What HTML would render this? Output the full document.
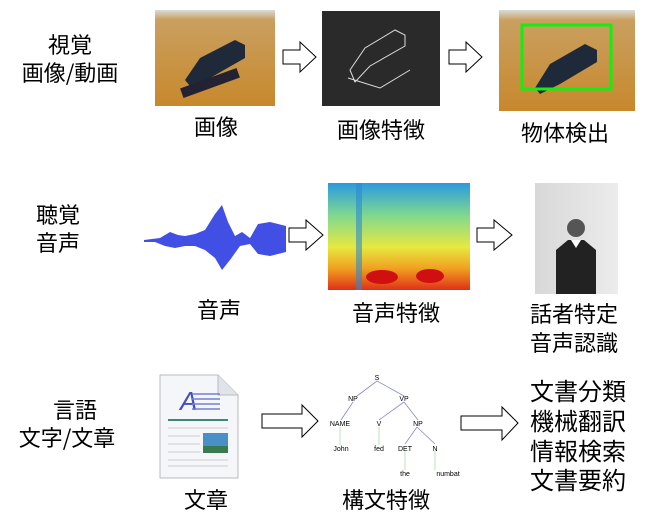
<!DOCTYPE html>
<html><head><meta charset="utf-8"><style>
body{margin:0;background:#fff;}
svg text{font-family:"Liberation Sans","Noto Sans CJK JP",sans-serif;fill:#000;}
svg text.jp{font-family:"Noto Sans CJK JP",sans-serif;}
</style></head><body>
<svg width="660" height="523" viewBox="0 0 660 523" xmlns="http://www.w3.org/2000/svg">
<defs>
<linearGradient id="wood" x1="0" y1="0" x2="0" y2="1"><stop offset="0" stop-color="#d8dcd8"/><stop offset="0.1" stop-color="#c9a060"/><stop offset="1" stop-color="#c8882c"/></linearGradient>
<linearGradient id="spec" x1="0" y1="0" x2="0" y2="1"><stop offset="0" stop-color="#2a9ae0"/><stop offset="0.3" stop-color="#7fd890"/><stop offset="0.6" stop-color="#e8e840"/><stop offset="0.8" stop-color="#f0a020"/><stop offset="1" stop-color="#e03018"/></linearGradient>
<linearGradient id="wall" x1="0" y1="0" x2="1" y2="0"><stop offset="0" stop-color="#d8d8d8"/><stop offset="1" stop-color="#ececec"/></linearGradient>
</defs>
<g font-size="22" text-anchor="middle">
<text class="jp" x="70" y="53">視覚</text><text class="jp" x="70" y="81">画像/動画</text>
<text class="jp" x="58" y="223">聴覚</text><text class="jp" x="58" y="251">音声</text>
<text class="jp" x="75" y="418">言語</text><text class="jp" x="67" y="446">文字/文章</text>
</g>
<!-- row1 -->
<rect x="155" y="10" width="120" height="96" fill="url(#wood)"/>
<path d="M185 80 L200 58 L235 40 L245 45 L245 58 L210 78 L190 86 Z" fill="#1e2a3a"/>
<rect x="180" y="78" width="60" height="10" fill="#223" transform="rotate(-20 210 83)"/>
<rect x="322" y="11" width="118" height="95" fill="#2a2a2a"/>
<path d="M350 70 L365 48 L395 30 L405 35 L405 46 L370 66 L355 82 Z M348 78 L380 88 L410 70" fill="none" stroke="#ddd" stroke-width="1"/>
<rect x="499" y="10" width="136" height="101" fill="url(#wood)"/>
<path d="M535 88 L550 64 L585 44 L597 50 L597 62 L560 84 L540 94 Z" fill="#1e2a3a"/>
<rect x="522" y="25" width="89" height="64" fill="none" stroke="#10f010" stroke-width="3"/>
<g fill="#fff" stroke="#000" stroke-width="1">
<path d="M283 50 L300 50 L300 42 L316 57 L300 72 L300 64 L283 64 Z"/>
<path d="M449 50 L466 50 L466 42 L482 57 L466 72 L466 64 L449 64 Z"/>
<path d="M289 228 L306 228 L306 220 L323 235 L306 250 L306 242 L289 242 Z"/>
<path d="M477 228 L494 228 L494 220 L512 235 L494 250 L494 242 L477 242 Z"/>
<path d="M262 414 L302 414 L302 405 L318 421 L302 437 L302 428 L262 428 Z"/>
<path d="M461 416 L502 416 L502 407 L518 423 L502 440 L502 430 L461 430 Z"/>
</g>
<g font-size="22" text-anchor="middle">
<text x="216" y="135">画像</text><text x="381" y="138">画像特徴</text><text x="565" y="141">物体検出</text>
<text x="219" y="318">音声</text><text x="396" y="321">音声特徴</text>
<text x="574" y="322">話者特定</text><text x="574" y="351">音声認識</text>
<text x="206" y="508">文章</text><text x="386" y="508">構文特徴</text>
</g>
<!-- row2 -->
<path d="M144 240 L160 238 L170 232 L178 235 L185 236 L195 234 L205 230 L215 214 L222 205 L228 222 L235 236 L242 232 L250 238 L258 224 L270 222 L286 226 L286 252 L270 256 L258 254 L250 244 L240 246 L230 260 L222 270 L215 258 L205 250 L195 246 L185 246 L175 248 L165 246 L155 242 L144 242 Z" fill="#2030e0" opacity="0.85"/>
<rect x="328" y="183" width="142" height="107" fill="url(#spec)"/>
<rect x="356" y="183" width="6" height="107" fill="#2a8ad0" opacity="0.6"/>
<ellipse cx="382" cy="277" rx="16" ry="7" fill="#d01010"/>
<ellipse cx="430" cy="276" rx="14" ry="7" fill="#d01010"/>
<rect x="535" y="183" width="83" height="111" fill="url(#wall)"/>
<circle cx="576" cy="228" r="9" fill="#555"/>
<path d="M556 294 L556 250 L568 240 L584 240 L596 250 L596 294 Z" fill="#222"/>
<path d="M571 240 L576 248 L581 240 Z" fill="#fff"/>
<!-- row3 doc -->
<path d="M160 375 L218 375 L238 395 L238 478 L160 478 Z" fill="#f4f6fa" stroke="#bbb"/>
<path d="M218 375 L218 395 L238 395" fill="#e0e4ea" stroke="#bbb"/>
<text x="180" y="410" font-size="26" font-style="italic" font-family="Liberation Serif" style="fill:#4050c0">A</text>
<g stroke="#7080d0" stroke-width="1.5"><line x1="192" y1="394" x2="220" y2="394"/><line x1="192" y1="399" x2="220" y2="399"/><line x1="192" y1="404" x2="220" y2="404"/><line x1="192" y1="409" x2="220" y2="409"/></g>
<line x1="168" y1="420" x2="228" y2="420" stroke="#3a8a7a" stroke-width="2"/>
<g stroke="#ccc"><line x1="168" y1="428" x2="228" y2="428"/><line x1="168" y1="436" x2="200" y2="436"/><line x1="168" y1="444" x2="200" y2="444"/><line x1="168" y1="452" x2="200" y2="452"/><line x1="168" y1="460" x2="228" y2="460"/><line x1="168" y1="466" x2="228" y2="466"/></g>
<rect x="203" y="433" width="25" height="20" fill="#4a90c8"/><rect x="203" y="446" width="25" height="7" fill="#3a7a50"/>
<!-- tree -->
<g stroke="#8888cc" stroke-width="0.8"><line x1="377" y1="381" x2="357" y2="396"/><line x1="377" y1="381" x2="404" y2="396"/><line x1="353" y1="402" x2="341" y2="420"/><line x1="404" y1="402" x2="379" y2="420"/><line x1="404" y1="402" x2="418" y2="420"/><line x1="417" y1="427" x2="405" y2="444"/><line x1="417" y1="427" x2="435" y2="444"/></g>
<g stroke="#aaddaa" stroke-width="0.8"><line x1="340" y1="427" x2="340" y2="445"/><line x1="379" y1="427" x2="379" y2="445"/><line x1="405" y1="450" x2="405" y2="470"/><line x1="435" y1="450" x2="435" y2="470"/></g>
<g font-size="7" text-anchor="middle" style="fill:#333">
<text x="377" y="380">S</text><text x="353" y="401">NP</text><text x="404" y="401">VP</text>
<text x="340" y="426">NAME</text><text x="379" y="426">V</text><text x="418" y="426">NP</text>
<text x="341" y="451">John</text><text x="379" y="451">fed</text><text x="405" y="451">DET</text><text x="435" y="451">N</text>
<text x="405" y="476">the</text><text x="448" y="476">numbat</text>
</g>
<g font-size="24" text-anchor="start">
<text x="530" y="400">文書分類</text><text x="530" y="430">機械翻訳</text><text x="530" y="460">情報検索</text><text x="530" y="489">文書要約</text>
</g>
</svg>
</body></html>
